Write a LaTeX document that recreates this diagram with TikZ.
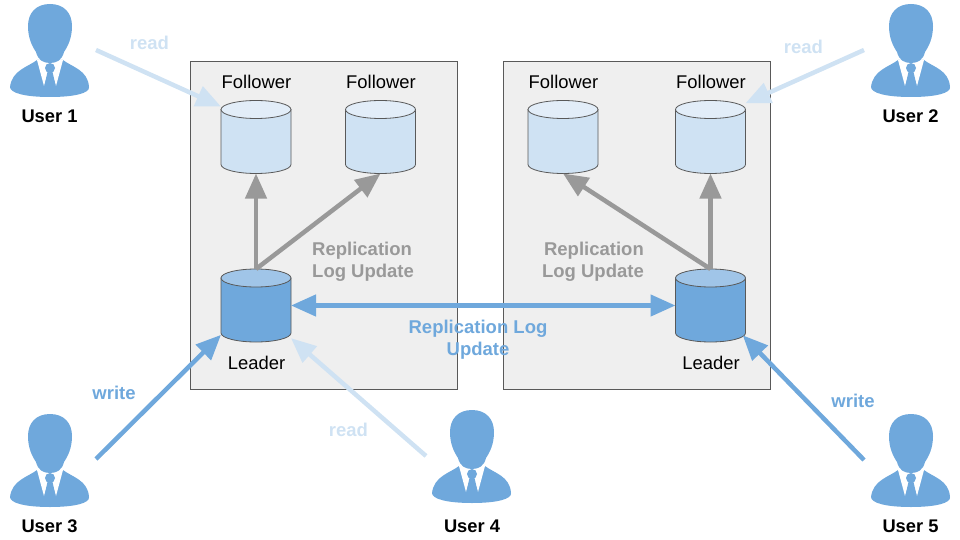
\documentclass[tikz,border=0pt]{standalone}
\usepackage{fontspec}
\setmainfont{Liberation Sans}
\usepackage{tikz}
\usetikzlibrary{arrows.meta}

\definecolor{userblue}{HTML}{6FA8DC}
\definecolor{lightblue}{HTML}{CFE2F3}
\definecolor{topblue}{HTML}{E2EDF8}
\definecolor{midblue}{HTML}{A0C5E8}
\definecolor{arrowgray}{HTML}{999999}
\definecolor{boxgray}{HTML}{EFEFEF}
\definecolor{edgegray}{HTML}{595959}

\tikzset{
    dcbox/.style={draw=edgegray, fill=boxgray, line width=1pt},
    dbframe/.style={minimum width=70pt, minimum height=73pt, inner sep=0pt, outer sep=0pt},
    txt/.style={font=\fontsize{18.4}{22}\selectfont, inner sep=0pt, align=center, text=black},
    usertxt/.style={txt, font=\fontsize{18.3}{22}\selectfont\bfseries},
    boldtxt/.style={txt, font=\fontsize{18.5}{22}\selectfont\bfseries},
    graytxt/.style={boldtxt, text=arrowgray},
    bluetxt/.style={boldtxt, text=userblue},
    lighttxt/.style={boldtxt, text=lightblue},
    link/.style={line width=4.5pt, -{Triangle[length=25pt,width=21pt]}},
    graylink/.style={link, draw=arrowgray},
    bluelink/.style={link, draw=userblue},
    lightlink/.style={link, draw=lightblue},
    pics/dbcan/.style 2 args={code={
        \draw[edgegray, line width=0.8pt, fill=#1] (-35,-27.5) -- (-35,27.5) arc (180:0:35 and 9) -- (35,-27.5) -- cycle;
        \draw[edgegray, line width=0.8pt, fill=#2] (0,-27.5) ellipse (35 and 9);
    }},
    pics/usericon/.style={code={
        % body, collar and tie, then the head on top
        \fill[userblue] (-13,60) .. controls (-22,67) and (-38,70) .. (-40,87)
            .. controls (-40,93) and (-25,97) .. (0,97)
            .. controls (25,97) and (40,93) .. (39,87)
            .. controls (38,70) and (22,67) .. (13,60) -- cycle;
        \fill[white] (-13,60) -- (-6,86) -- (0,66) -- (6,86) -- (13,60) -- cycle;
        \fill[userblue] (0,68) circle (5);
        \fill[userblue] (-2.5,72) -- (2.5,72) -- (5.5,85) -- (0,92) -- (-5.5,85) -- cycle;
        \fill[userblue] (0,4) .. controls (-14,4) and (-22,13) .. (-22,26)
            .. controls (-22,38) and (-18,46) .. (-14,52)
            .. controls (-12,60) and (-7,63) .. (0,63)
            .. controls (7,63) and (12,60) .. (14,52)
            .. controls (18,46) and (22,38) .. (22,26)
            .. controls (22,13) and (14,4) .. (0,4) -- cycle;
    }}
}

\begin{document}
\begin{tikzpicture}[x=1pt, y=-1pt]
    \useasboundingbox (0,0) rectangle (960,540);

    % Boxes
    \draw[dcbox] (190.5,61.5) rectangle (457.5,389.5);
    \draw[dcbox] (503.5,61.5) rectangle (770.5,389.5);

    % Users
    \pic at (50,0) {usericon};
    \pic at (911,0) {usericon};
    \pic at (50,410) {usericon};
    \pic at (472,406) {usericon};
    \pic at (911,410) {usericon};
    \node[usertxt] (user1) at (49.5,116.5) {User 1};
    \node[usertxt] (user2) at (910.5,116.5) {User 2};
    \node[usertxt] (user3) at (49.5,526.5) {User 3};
    \node[usertxt] (user4) at (472,526.5) {User 4};
    \node[usertxt] (user5) at (910.5,526.5) {User 5};

    % Databases
    \node[dbframe] (followerA) at (256,137) {};
    \node[dbframe] (followerB) at (380.5,137) {};
    \node[dbframe] (leaderA) at (256,305.5) {};
    \node[dbframe] (followerC) at (563,137) {};
    \node[dbframe] (followerD) at (710.5,137) {};
    \node[dbframe] (leaderB) at (710.5,305.5) {};
    \pic at (followerA) {dbcan={lightblue}{topblue}};
    \pic at (followerB) {dbcan={lightblue}{topblue}};
    \pic at (followerC) {dbcan={lightblue}{topblue}};
    \pic at (followerD) {dbcan={lightblue}{topblue}};
    \pic at (leaderA) {dbcan={userblue}{midblue}};
    \pic at (leaderB) {dbcan={userblue}{midblue}};
    \node[txt] (labelA) at (256.5,82) {Follower};
    \node[txt] (labelB) at (381,82) {Follower};
    \node[txt] (labelC) at (563.5,82) {Follower};
    \node[txt] (labelD) at (711,82) {Follower};
    \node[txt] (labelE) at (256.5,363) {Leader};
    \node[txt] (labelF) at (711,363) {Leader};

    % Replication inside each box
    \draw[graylink] (leaderA.north) -- (followerA.south);
    \draw[graylink] (leaderA.north) -- (followerB.south);
    \draw[graylink] (leaderB.north) -- (followerD.south);
    \draw[graylink] (leaderB.north) -- (followerC.south);
    \draw[bluelink, {Triangle[length=25pt,width=21pt]}-{Triangle[length=25pt,width=21pt]}] (leaderA.east) -- (leaderB.west);

    % Free ends of the user arrows
    \coordinate (fromA) at (96,50);
    \coordinate (fromB) at (864,50);
    \coordinate (fromC) at (96,459);
    \coordinate (fromD) at (426,456);
    \coordinate (fromE) at (864,460);
    \draw[lightlink] (fromA) -- (followerA.139);
    \draw[lightlink] (fromB) -- (followerD.44);
    \draw[bluelink] (fromC) -- (leaderA.-140);
    \draw[lightlink] (fromD) -- (leaderA.-43);
    \draw[bluelink, shorten >=-4pt] (fromE) -- (leaderB.-43);

    % Labels
    \node[lighttxt] (readA) at (149.5,43) {read};
    \node[lighttxt] (readB) at (803.5,47) {read};
    \node[lighttxt] (readC) at (348.5,430) {read};
    \node[bluetxt] (writeA) at (114,393) {write};
    \node[bluetxt] (writeB) at (853,401) {write};
    \node[graytxt, align=left, anchor=west] (logA) at (312,262) {Replication\\Log Update};
    \node[graytxt, align=right, anchor=east] (logB) at (644,262) {Replication\\Log Update};
    \node[bluetxt] (logC) at (478,340) {Replication Log\\Update};
\end{tikzpicture}
\end{document}
